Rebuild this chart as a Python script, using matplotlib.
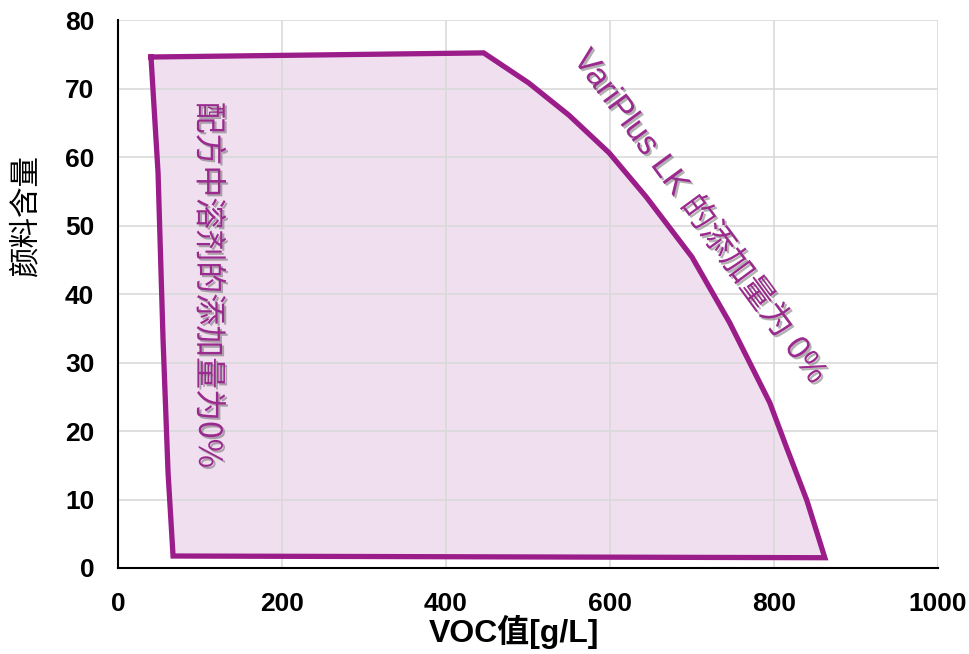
import matplotlib
matplotlib.use('Agg')
import matplotlib.pyplot as plt
import matplotlib.patheffects as pe

# polygon outline: top edge -> curved right edge -> bottom edge -> left edge
voc = [40.3, 446, 501, 550, 599, 644, 700, 746, 795, 815, 840, 862,
       67.2, 61.1, 55.0, 48.9, 40.3]
pigment = [74.6, 75.2, 70.8, 66.1, 60.6, 54.2, 45.4, 35.8, 24.1, 17.7, 9.9, 1.5,
           1.75, 13.9, 33.3, 57.7, 74.6]

x_ticks = [0, 200, 400, 600, 800, 1000]
y_ticks = [0, 10, 20, 30, 40, 50, 60, 70, 80]

label_solvent = '配方中溶剂的添加量为0%'
label_lk = 'VariPlus LK 的添加量为 0%'

purple = '#9B1D8A'
fill_col = '#F0DFEF'
text_col = '#9A2A8D'

plt.rcParams['font.family'] = ['Liberation Sans', 'Noto Sans CJK SC', 'DejaVu Sans']

fig = plt.figure(figsize=(9.7, 6.54), dpi=100)
ax = fig.add_axes([0.1216, 0.1315, 0.8454, 0.8379])

ax.fill(voc, pigment, facecolor=fill_col, edgecolor='none', zorder=1)
ax.plot(voc, pigment, color=purple, lw=3.8, solid_joinstyle='miter', zorder=3)

ax.set_xlim(0, 1000)
ax.set_ylim(0, 80)
ax.set_xticks(x_ticks)
ax.set_yticks(y_ticks)
ax.grid(True, color='#D9D9D9', lw=1.3)
for ln in ax.get_xgridlines() + ax.get_ygridlines():
    ln.set_zorder(2)
    ln.set_alpha(0.9)

for s in ['top', 'right']:
    ax.spines[s].set_visible(False)
for s in ['left', 'bottom']:
    ax.spines[s].set_linewidth(1.5)
    ax.spines[s].set_color('black')
ax.tick_params(axis='y', length=0, pad=17)
ax.tick_params(axis='x', length=0, pad=17)

for t in ax.get_yticklabels() + ax.get_xticklabels():
    t.set_fontsize(19)
    t.set_fontweight('bold')

ax.set_xlabel('VOC值[g/L]', fontsize=23, fontweight='bold', labelpad=3)
ax.xaxis.set_label_coords(0.483, -0.085)
ax.xaxis.label.set_va('top')
fig.text(0.027, 0.67, '颜料含量', rotation=90, fontsize=22, ha='center', va='center',
         family=['Noto Sans CJK SC', 'DejaVu Sans'])

shadow = [pe.SimplePatchShadow(offset=(1.5, -1.5), shadow_rgbFace='#555555', alpha=0.45),
          pe.Normal()]
ax.text(110, 41.3, label_solvent, rotation=-90, fontsize=23, color=text_col,
        ha='center', va='center', path_effects=shadow, zorder=5,
        family=['Noto Sans CJK SC', 'DejaVu Sans'])
ax.text(709, 51.2, label_lk, rotation=-53.7, fontsize=24, color=text_col,
        ha='center', va='center', rotation_mode='anchor', path_effects=shadow, zorder=5)

fig.savefig('out.png', dpi=100)
